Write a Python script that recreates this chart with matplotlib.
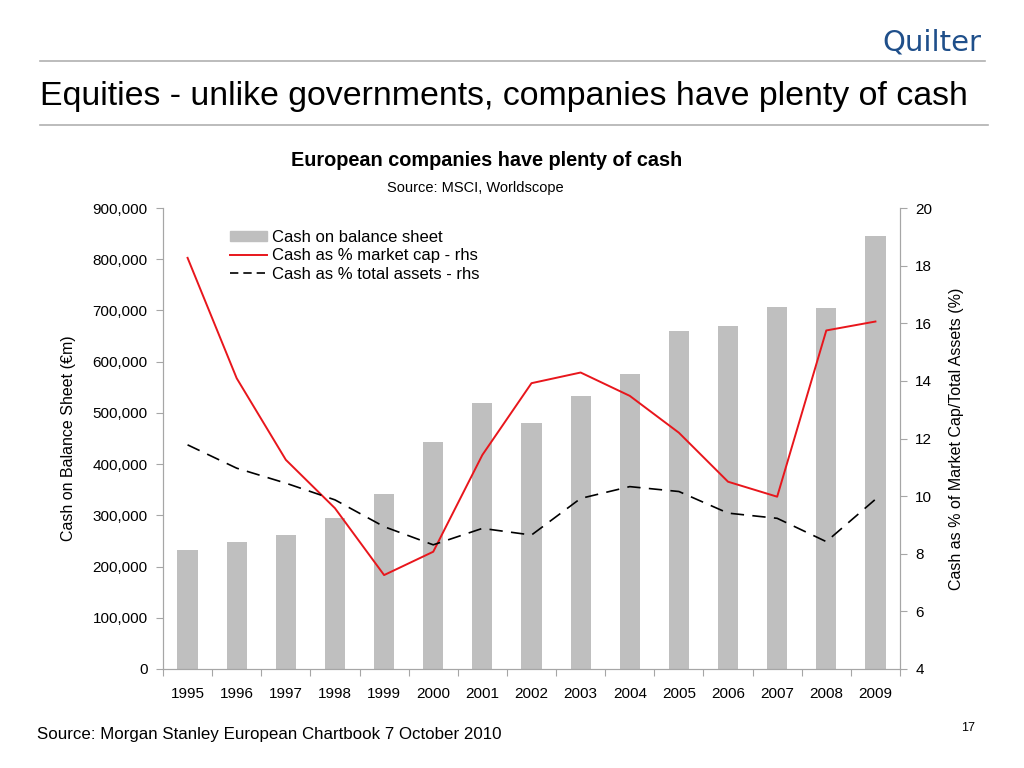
import numpy as np
import matplotlib
matplotlib.use('Agg')
import matplotlib.pyplot as plt
from matplotlib.lines import Line2D

plt.rcParams['font.family'] = ['Liberation Sans', 'DejaVu Sans']

years = ['1995', '1996', '1997', '1998', '1999', '2000', '2001', '2002',
         '2003', '2004', '2005', '2006', '2007', '2008', '2009']
cash_balance = [232000, 248000, 262000, 295000, 342000, 443000, 520000, 480000,
                533000, 576000, 659000, 670000, 706000, 705000, 845000]
pct_market_cap = [18.27, 14.09, 11.26, 9.58, 7.26, 8.07, 11.43, 13.92,
                  14.29, 13.48, 12.2, 10.5, 9.98, 15.75, 16.06]
pct_total_assets = [11.78, 10.97, 10.45, 9.87, 8.94, 8.31, 8.88, 8.65,
                    9.92, 10.33, 10.16, 9.41, 9.23, 8.42, 9.89]

grey = '#a6a6a6'
x = np.arange(len(years))

fig = plt.figure(figsize=(10.24, 7.68), dpi=100)
ax = fig.add_axes([163 / 1024, 1 - 669 / 768, (900 - 163) / 1024, (669 - 208) / 768])
ax2 = ax.twinx()

ax.bar(x, cash_balance, width=0.41, color='#bfbfbf', zorder=1)
ax2.plot(x, pct_market_cap, color='#e8161c', lw=1.4)
ax2.plot(x, pct_total_assets, color='black', lw=1.2, dashes=(8, 5))

ax.set_xlim(-0.5, 14.5)
ax.set_ylim(0, 900000)
ax.set_yticks(np.arange(0, 900001, 100000))
ax.set_yticklabels([f'{v:,}' for v in range(0, 900001, 100000)], fontsize=11)
ax2.set_ylim(4, 20)
ax2.set_yticks(np.arange(4, 21, 2))
ax2.tick_params(axis='y', labelsize=11, length=5, color=grey, pad=6)
ax.tick_params(axis='y', length=5, color=grey, pad=6)

ax.set_xticks(np.arange(-0.5, 15, 1))
ax.set_xticklabels([])
ax.set_xticks(x, minor=True)
ax.set_xticklabels(years, minor=True, fontsize=11)
ax.tick_params(axis='x', which='major', length=5, color=grey)
ax.tick_params(axis='x', which='minor', length=0, pad=13)

for a in (ax, ax2):
    a.spines['top'].set_visible(False)
    for s in ('left', 'right', 'bottom'):
        a.spines[s].set_color(grey)
        a.spines[s].set_linewidth(0.8)
ax2.patch.set_visible(False)

ax.set_ylabel('Cash on Balance Sheet (\u20acm)', fontsize=11.5, labelpad=12)
ax2.set_ylabel('Cash as % of Market Cap/Total Assets (%)', fontsize=11.5, labelpad=12)

handles = [plt.Rectangle((0, 0), 1, 1, color='#bfbfbf'),
           Line2D([], [], color='#e8161c', lw=1.4),
           Line2D([], [], color='black', lw=1.2, dashes=(5, 3))]
labels = ['Cash on balance sheet', 'Cash as % market cap - rhs', 'Cash as % total assets - rhs']
ax2.legend(handles, labels, loc='upper left', bbox_to_anchor=(230 / 1024, 1 - 230 / 768),
           bbox_transform=fig.transFigure, frameon=False, fontsize=12,
           handlelength=2.2, handleheight=0.5, handletextpad=0.3, labelspacing=0.2,
           borderpad=0, borderaxespad=0)

# slide furniture
fig.text(40 / 1024, 1 - 97 / 768, 'Equities - unlike governments, companies have plenty of cash',
         fontsize=24.4, va='center', ha='left')
fig.add_artist(Line2D([40 / 1024, 985 / 1024], [1 - 61 / 768] * 2, color='#b0b0b0', lw=1.2))
fig.add_artist(Line2D([40 / 1024, 988 / 1024], [1 - 125 / 768] * 2, color='#b0b0b0', lw=1.2))
fig.text(932 / 1024, 1 - 42 / 768, 'Quilter', fontsize=21, color='#1f4f8a',
         ha='center', va='center', family='DejaVu Sans')
fig.text(487 / 1024, 1 - 160 / 768, 'European companies have plenty of cash',
         fontsize=14.3, fontweight='bold', ha='center', va='center')
fig.text(475 / 1024, 1 - 188 / 768, 'Source: MSCI, Worldscope',
         fontsize=10.5, ha='center', va='center')
fig.text(37 / 1024, 1 - 734 / 768, 'Source: Morgan Stanley European Chartbook 7 October 2010',
         fontsize=12.2, ha='left', va='center')
fig.text(968 / 1024, 1 - 728 / 768, '17', fontsize=9, ha='center', va='center')

fig.savefig('out.png', dpi=100)
